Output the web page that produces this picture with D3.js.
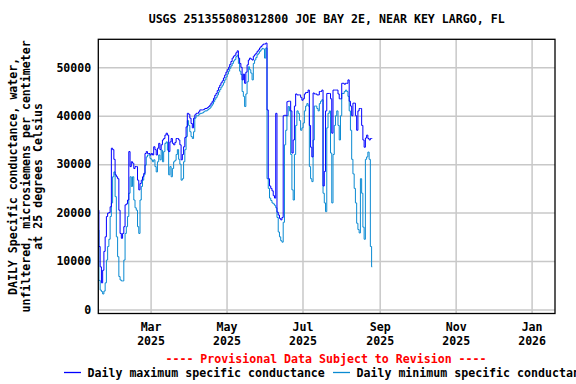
<!DOCTYPE html>
<html><head><meta charset="utf-8">
<script src="https://cdn.jsdelivr.net/npm/d3@7"></script>
<style>
html,body{margin:0;padding:0;background:#fff;}
svg{display:block;}
text{font-family:"DejaVu Sans Mono",monospace;font-weight:bold;font-size:11.6px;fill:#000;}
</style></head>
<body>
<svg id="chart" width="576" height="384"></svg>
<script>
const titleText = "USGS 251355080312800 JOE BAY 2E, NEAR KEY LARGO, FL";
const yLabelLines = ["DAILY Specific conductance, water,", "unfiltered, microsiemens per centimeter", "at 25 degrees Celsius"];
const provisionalText = "---- Provisional Data Subject to Revision ----";
const seriesNames = ["Daily maximum specific conductance", "Daily minimum specific conductance"];
const firstDay = "2025-01-18";
const xDomain = ["2025-01-18", "2026-01-19T19:00"];
const yDomain = [-826, 55780];
const yTicks = [0, 10000, 20000, 30000, 40000, 50000];
const xTicks = ["2025-03-01", "2025-05-01", "2025-07-01", "2025-09-01", "2025-11-01", "2026-01-01"];
const xTickMonths = ["Mar", "May", "Jul", "Sep", "Nov", "Jan"];
const xTickYears = ["2025", "2025", "2025", "2025", "2025", "2026"];

const dailyMax = [
20500,13000,8800,5500,8100,12000,15000,19200,19900,20000,
21200,33300,33000,31000,27800,27400,27000,20500,15700,14700,
15700,17100,21600,21800,22600,32600,29500,30500,30200,29100,
29500,29500,26700,24700,26000,26700,27400,28100,32200,32600,
32200,32200,31900,32200,31900,33600,33000,31900,33300,34300,
33000,34000,35000,35300,36000,36400,36000,32600,34600,35300,
34300,34000,
34500,35300,35300,35000,34000,30900,32000,33600,35500,37700,40500,40300,39500,38400,37500,39500,
40200,40500,40500,40800,41200,41200,41200,41300,41500,41500,41700,41900,42200,42600,43000,43600,44200,44600,45200,45800,46300,46800,47200,47800,48400,49000,49500,50000,50600,51200,51900,52300,52500,53000,53400,
51900,50800,50000,47400,48600,46700,49000,50500,51500,51900,51700,51500,52300,52600,52900,53300,53600,54000,54300,54600,54800,54800,55000,41200,
27000,25500,25000,24500,23500,23000,40500,20100,19500,18800,18500,19000,40000,40100,40000,42900,43000,43000,41000,32300,35000,42000,44500,44300,
44300,44300,43800,43200,43500,44500,44800,44800,45300,38000,
33500,31500,44700,44500,44500,44300,44300,45000,45000,45300,
25500,28500,41000,44600,44600,44600,43500,36400,45300,45300,
45300,45300,44500,43500,43500,46700,46700,46500,46700,46700,
47400,43000,42000,40000,42600,42600,40000,37000,41000,41500,
41500,38000,35000,33500,35400,36000,35300,35000,35300,35300
];
const dailyMin = [
16400,6000,4000,3700,3200,3800,5500,10200,13000,14500,
19200,22000,27400,28400,23300,15000,10900,6800,6100,5900,
5900,10200,15700,17100,19200,24000,27400,25400,27400,22600,
21000,20500,17100,15700,22600,25400,26700,27800,29800,31500,
31900,31900,31200,30900,30500,30900,29500,28400,30500,31900,
30900,32900,30500,32600,34300,34600,32900,27800,29500,27400,
29100,30500,
30800,32000,33000,31000,30000,26700,27000,30500,33000,35700,39000,38000,36700,35700,35300,36700,
39500,40000,40000,40200,40500,40500,40600,40800,41000,41000,41200,41400,41600,42000,42400,42900,43400,43800,44300,44900,45400,45900,46300,46800,47400,48000,48600,49200,49800,50300,50800,51300,51600,52200,52500,
50800,49200,48500,45000,44000,41900,44500,47000,50100,49500,48800,47400,50800,51500,52000,52600,52900,53300,53600,53900,53800,51900,54000,27000,
25000,23000,22500,22000,21800,21500,21000,19000,16000,15000,14200,13900,18000,34000,37000,40000,41900,41000,32000,24700,22600,32000,38000,41000,
40500,39000,37000,37500,38500,41000,42000,42500,42000,29500,
27000,26400,35000,42000,42000,41500,41000,42500,43000,43300,
24000,22000,20200,37500,40500,41000,32300,22000,32000,38000,
40000,41000,38000,35000,40000,44600,44600,45000,45300,45000,
44000,41000,37000,31000,28000,25000,22000,17800,16500,15800,
27000,24000,17000,14500,31000,31500,32500,31000,13000,8800
];
const seriesColors = ["#0000ff", "#0a8ad2"];

(function () {
const svg = d3.select("#chart");
const mLeft = 98.3, mRight = 555, mTop = 39.3, mBottom = 313.5;
const plotW = mRight - mLeft, plotH = mBottom - mTop;
const parse = d3.utcParse("%Y-%m-%d");
const parseT = d3.utcParse("%Y-%m-%dT%H:%M");
const x = d3.scaleUtc().domain([parse(xDomain[0]), parseT(xDomain[1])]).range([mLeft, mRight]);
const y = d3.scaleLinear().domain(yDomain).range([mBottom, mTop]);
const start = parse(firstDay);
const dayAt = i => d3.utcDay.offset(start, i);
const fontStyle = sel => sel.attr("font-family", null).attr("font-size", null)
  .style("font-family", '"DejaVu Sans Mono",monospace').style("font-size", "11.6px").style("font-weight", "bold");

// Y grid + labels
const yAxis = d3.axisLeft(y).tickValues(yTicks).tickSize(-plotW).tickPadding(7).tickFormat(d3.format("d"));
const gy = svg.append("g").attr("transform", `translate(${mLeft},0)`).call(yAxis);
gy.attr("font-family", null).attr("font-size", null);
gy.select(".domain").remove();
gy.selectAll(".tick line").attr("stroke", "#c8c8c8").attr("stroke-width", 1.5);
fontStyle(gy.selectAll(".tick text"));

// X grid + labels
const xTickDates = xTicks.map(parse);
const xAxis = d3.axisBottom(x).tickValues(xTickDates).tickSize(-plotH).tickFormat(() => "");
const gx = svg.append("g").attr("transform", `translate(0,${mBottom})`).call(xAxis);
gx.attr("font-family", null).attr("font-size", null);
gx.select(".domain").remove();
gx.selectAll(".tick line").attr("stroke", "#c8c8c8").attr("stroke-width", 1.5);
gx.selectAll(".tick text").each(function (d, i) {
  const t = d3.select(this).attr("y", 17.5).attr("dy", null);
  fontStyle(t);
  t.append("tspan").attr("x", 0).attr("dy", 0).text(xTickMonths[i]);
  t.append("tspan").attr("x", 0).attr("dy", 14).text(xTickYears[i]);
});

// Lines
svg.append("clipPath").attr("id", "clip").append("rect")
  .attr("x", mLeft).attr("y", mTop).attr("width", plotW).attr("height", plotH);
const line = d3.line().x((d, i) => x(dayAt(i))).y(d => y(d)).curve(d3.curveStep);
[[dailyMin, seriesColors[1]], [dailyMax, seriesColors[0]]].forEach(([vals, col]) => {
  svg.append("path").datum(vals).attr("clip-path", "url(#clip)")
    .attr("fill", "none").attr("stroke", col).attr("stroke-width", 1)
    .attr("d", line);
});

// Frame
svg.append("rect").attr("x", mLeft).attr("y", mTop).attr("width", plotW).attr("height", plotH)
  .attr("fill", "none").attr("stroke", "#000").attr("stroke-width", 1.3);

// Title
svg.append("text").attr("x", (mLeft + mRight) / 2).attr("y", 23).attr("text-anchor", "middle").text(titleText);

// Y label
const yl = svg.append("text").attr("transform", `translate(0,${(mTop + mBottom) / 2}) rotate(-90)`).attr("text-anchor", "middle");
yLabelLines.forEach((s, i) => yl.append("tspan").attr("x", 0).attr("y", 17 + i * 12.6).text(s));

// Provisional
svg.append("text").attr("x", 326).attr("y", 363).attr("text-anchor", "middle").style("fill", "#ff0000").text(provisionalText);

// Legend
const legendX = [64, 333];
seriesNames.forEach((name, i) => {
  svg.append("line").attr("x1", legendX[i]).attr("x2", legendX[i] + 17).attr("y1", 372.5).attr("y2", 372.5)
    .attr("stroke", seriesColors[i]).attr("stroke-width", 1.3);
  svg.append("text").attr("x", legendX[i] + 23.5).attr("y", 377).text(name);
});
})();
</script>
</body></html>
